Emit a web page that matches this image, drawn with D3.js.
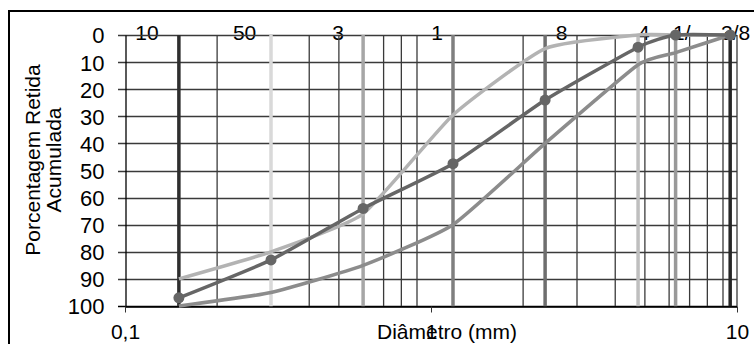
<!DOCTYPE html>
<html>
<head>
<meta charset="utf-8">
<script src="https://cdn.jsdelivr.net/npm/d3@7"></script>
<style>
  body { margin: 0; background: #fff; }
  text { font-family: "Liberation Sans", Arial, sans-serif; fill: #000; }
</style>
</head>
<body>
<script>
//sieve openings (mm)
var sieves = [0.15, 0.3, 0.6, 1.18, 2.36, 4.75, 6.3, 9.5];
//sieve line colours
var sieveColors = ["#2e2e2e", "#d9d9d9", "#a6a6a6", "#7f7f7f", "#6e6e6e", "#bfbfbf", "#999999", "#262626"];
//labels written along the top and where they sit (mm)
var sieveLabels = ["10", "50", "3", "1", "8", "4", "1/", "3/8"];
var sieveLabelPos = [0.118, 0.246, 0.497, 1.046, 2.67, 4.96, 6.6, 9.9];
//percent retained (accumulated) for each curve
var lightSeries = [90, 80, 66, 29.5, 5, 0, 0, 0];
var midSeries = [100, 95, 85, 70, 40, 11, 6.5, 0];
var darkSeries = [97, 83, 64, 47.5, 24, 4.5, 0, 0];
//axis ticks
var yTicks = [0, 10, 20, 30, 40, 50, 60, 70, 80, 90, 100];
var xTicks = [0.1, 1, 10];
var xTickLabels = ["0,1", "1", "10"];
var xMinor = [0.2, 0.3, 0.4, 0.5, 0.6, 0.7, 0.8, 0.9, 2, 3, 4, 5, 6, 7, 8, 9, 10];

window.onload = function(){
  var svg = d3.select("body")
    .append("svg")
    .attr("width", 754)
    .attr("height", 344);

  //outer frame
  svg.append("rect")
    .attr("x", 9)
    .attr("y", 11)
    .attr("width", 800)
    .attr("height", 400)
    .style("fill", "none")
    .style("stroke", "#000")
    .style("stroke-width", 2);

  var x = d3.scaleLog().domain([0.1, 10]).range([125, 737]);
  var y = d3.scaleLinear().domain([0, 100]).range([35, 306]);

  //sieve names along the top (drawn first, grid goes over them)
  svg.selectAll(".sieveLabel")
    .data(sieveLabels)
    .enter()
    .append("text")
    .attr("class", "sieveLabel")
    .attr("text-anchor", "middle")
    .attr("x", function(d, i){ return x(sieveLabelPos[i]); })
    .attr("y", 40)
    .style("font-size", "21px")
    .text(function(d){ return d; });

  //horizontal grid (reaches out as the tick marks)
  svg.selectAll(".hgrid")
    .data(yTicks)
    .enter()
    .append("line")
    .attr("class", "hgrid")
    .attr("x1", 118)
    .attr("x2", x(10))
    .attr("y1", function(d){ return Math.round(y(d)) + 0.5; })
    .attr("y2", function(d){ return Math.round(y(d)) + 0.5; })
    .style("stroke", function(d){ return d == 100 ? "#000" : "#3a3a3a"; })
    .style("stroke-width", 1.3);

  //vertical grid
  svg.selectAll(".vgrid")
    .data(xMinor)
    .enter()
    .append("line")
    .attr("class", "vgrid")
    .attr("x1", function(d){ return x(d); })
    .attr("x2", function(d){ return x(d); })
    .attr("y1", y(0))
    .attr("y2", y(100))
    .style("stroke", "#3a3a3a")
    .style("stroke-width", 1.3);

  //sieve lines
  svg.selectAll(".sieve")
    .data(sieves)
    .enter()
    .append("line")
    .attr("class", "sieve")
    .attr("x1", function(d){ return x(d); })
    .attr("x2", function(d){ return x(d); })
    .attr("y1", y(0))
    .attr("y2", y(100) + 1)
    .style("stroke", function(d, i){ return sieveColors[i]; })
    .style("stroke-width", 3.5);

  //y axis
  var yAxis = d3.axisLeft(y)
    .tickValues(yTicks)
    .tickSize(7)
    .tickSizeOuter(0)
    .tickPadding(14);
  var yG = svg.append("g")
    .attr("transform", "translate(125.5,0)")
    .call(yAxis);
  yG.select(".domain").style("stroke", "#000").style("stroke-width", 1.3);
  yG.selectAll(".tick line").remove();
  yG.selectAll("text")
    .style("font-family", "Liberation Sans, Arial, sans-serif")
    .style("font-size", "22px")
    .attr("dy", "0.36em");

  //x axis
  var xAxis = d3.axisBottom(x)
    .tickValues(xTicks)
    .tickSize(6)
    .tickSizeOuter(0)
    .tickPadding(12)
    .tickFormat(function(d, i){ return xTickLabels[i]; });
  var xG = svg.append("g")
    .attr("transform", "translate(0," + (Math.round(y(100)) + 0.5) + ")")
    .call(xAxis);
  xG.select(".domain").style("stroke", "#000").style("stroke-width", 1.3);
  xG.selectAll(".tick line").style("stroke", "#333");
  xG.selectAll("text")
    .style("font-family", "Liberation Sans, Arial, sans-serif")
    .style("font-size", "21px");

  //curves (lightly smoothed like the spreadsheet lines)
  var line = d3.line()
    .x(function(d, i){ return x(sieves[i]); })
    .y(function(d){ return y(d); })
    .curve(d3.curveCardinal.tension(0.5));

  var curves = [
    {values: lightSeries, color: "#b3b3b3"},
    {values: midSeries, color: "#8c8c8c"},
    {values: darkSeries, color: "#666666"}
  ];

  svg.selectAll(".curve")
    .data(curves)
    .enter()
    .append("path")
    .attr("class", "curve")
    .attr("d", function(d){ return line(d.values); })
    .style("fill", "none")
    .style("stroke", function(d){ return d.color; })
    .style("stroke-width", 3.5);

  //markers on the dark curve
  svg.selectAll(".dot")
    .data(darkSeries)
    .enter()
    .append("circle")
    .attr("class", "dot")
    .attr("cx", function(d, i){ return x(sieves[i]); })
    .attr("cy", function(d){ return y(d); })
    .attr("r", 5.5)
    .style("fill", "#666666");

  //axis titles
  svg.append("text")
    .attr("x", 377)
    .attr("y", 339)
    .style("font-size", "21px")
    .text("Diâmetro (mm)");

  var yTitle = svg.append("text")
    .attr("text-anchor", "middle")
    .attr("transform", "translate(40,160) rotate(-90)")
    .style("font-size", "21px");
  yTitle.append("tspan")
    .attr("x", 0)
    .attr("y", 0)
    .text("Porcentagem Retida");
  yTitle.append("tspan")
    .attr("x", 0)
    .attr("dy", 21)
    .text("Acumulada");
};
</script>
</body>
</html>
